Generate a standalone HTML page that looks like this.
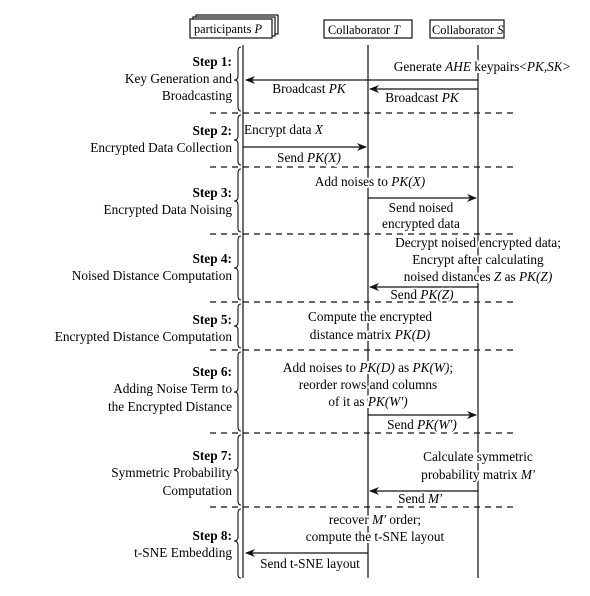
<!DOCTYPE html><html><head><style>body{margin:0;background:#fff}svg{display:block}
text{font-family:"Liberation Serif",serif;font-size:13.3px;fill:#000}
.m{paint-order:stroke;stroke:#fff;stroke-width:4px;stroke-linejoin:round}
.r{text-anchor:end}.c{text-anchor:middle}.b{font-weight:bold}.s{text-anchor:start}
.h{font-size:12.3px}
</style></head><body>
<svg width="590" height="596" viewBox="0 0 590 596">
<defs><marker id="a" markerWidth="10" markerHeight="8" refX="9" refY="4" orient="auto" markerUnits="userSpaceOnUse"><path d="M0,0 L10,4 L0,8 L3,4z" fill="#111"/></marker></defs>
<g stroke="#111" stroke-width="1.2" fill="#fff">
<rect x="196" y="15" width="82" height="19"/><rect x="193" y="17" width="82" height="19"/><rect x="190" y="19" width="82" height="19"/>
<rect x="324" y="20" width="88" height="18"/><rect x="430" y="20" width="74" height="18"/>
</g>
<text x="194" y="33" class="h">participants <tspan font-style="italic">P</tspan></text>
<text x="328" y="34" class="h">Collaborator <tspan font-style="italic">T</tspan></text>
<text x="432" y="34" class="h">Collaborator <tspan font-style="italic">S</tspan></text>
<g stroke="#111" stroke-width="1.2"><line x1="243" y1="45" x2="243" y2="578"/><line x1="368" y1="45" x2="368" y2="578"/><line x1="478" y1="45" x2="478" y2="578"/></g>
<g stroke="#111" stroke-width="1.2" stroke-dasharray="6,5">
<line x1="210" y1="113" x2="515" y2="113"/><line x1="210" y1="167" x2="515" y2="167"/><line x1="210" y1="234" x2="515" y2="234"/><line x1="210" y1="302" x2="515" y2="302"/><line x1="210" y1="350" x2="515" y2="350"/><line x1="210" y1="433" x2="515" y2="433"/><line x1="210" y1="507" x2="515" y2="507"/></g>
<g stroke="#111" stroke-width="1.1" fill="none">
<path d="M241,47 q-3,0 -3,4 L238,76 q0,4 -4,4 q4,0 4,4 L238,107 q0,4 3,4"/>
<path d="M241,115 q-3,0 -3,4 L238,136 q0,4 -4,4 q4,0 4,4 L238,161 q0,4 3,4"/>
<path d="M241,169 q-3,0 -3,4 L238,197 q0,4 -4,4 q4,0 4,4 L238,228 q0,4 3,4"/>
<path d="M241,236 q-3,0 -3,4 L238,264 q0,4 -4,4 q4,0 4,4 L238,296 q0,4 3,4"/>
<path d="M241,304 q-3,0 -3,4 L238,322 q0,4 -4,4 q4,0 4,4 L238,344 q0,4 3,4"/>
<path d="M241,352 q-3,0 -3,4 L238,388 q0,4 -4,4 q4,0 4,4 L238,427 q0,4 3,4"/>
<path d="M241,435 q-3,0 -3,4 L238,466 q0,4 -4,4 q4,0 4,4 L238,501 q0,4 3,4"/>
<path d="M241,509 q-3,0 -3,4 L238,537 q0,4 -4,4 q4,0 4,4 L238,574 q0,4 3,4"/>
</g>
<g stroke="#111" stroke-width="1.2" marker-end="url(#a)">
<line x1="478" y1="80" x2="246" y2="80"/><line x1="478" y1="89" x2="370" y2="89"/>
<line x1="243" y1="147" x2="366" y2="147"/><line x1="368" y1="198" x2="476" y2="198"/>
<line x1="478" y1="287" x2="370" y2="287"/><line x1="368" y1="415" x2="476" y2="415"/>
<line x1="478" y1="491" x2="370" y2="491"/><line x1="368" y1="553" x2="246" y2="553"/>
</g>
<text x="482" y="71" class="c m">Generate <tspan font-style="italic">AHE</tspan> keypairs&lt;<tspan font-style="italic">PK,SK</tspan>&gt;</text>
<text x="309" y="93" class="c m">Broadcast <tspan font-style="italic">PK</tspan></text>
<text x="422" y="102" class="c m">Broadcast <tspan font-style="italic">PK</tspan></text>
<text x="244" y="134" class="s">Encrypt data <tspan font-style="italic">X</tspan></text>
<text x="309" y="162" class="c m">Send <tspan font-style="italic">PK(X)</tspan></text>
<text x="370" y="186" class="c m">Add noises to <tspan font-style="italic">PK(X)</tspan></text>
<text x="421" y="212" class="c m">Send noised</text><text x="421" y="228" class="c m">encrypted data</text>
<text x="478" y="247" class="c m">Decrypt noised encrypted data;</text>
<text x="478" y="264" class="c m">Encrypt after calculating</text>
<text x="478" y="281" class="c m">noised distances <tspan font-style="italic">Z</tspan> as <tspan font-style="italic">PK(Z)</tspan></text>
<text x="422" y="299" class="c m">Send <tspan font-style="italic">PK(Z)</tspan></text>
<text x="370" y="321" class="c m">Compute the encrypted</text>
<text x="370" y="339" class="c m">distance matrix <tspan font-style="italic">PK(D)</tspan></text>
<text x="368" y="372" class="c m">Add noises to <tspan font-style="italic">PK(D)</tspan> as <tspan font-style="italic">PK(W)</tspan>;</text>
<text x="368" y="389" class="c m">reorder rows and columns</text>
<text x="368" y="406" class="c m">of it as <tspan font-style="italic">PK(W')</tspan></text>
<text x="422" y="429" class="c m">Send <tspan font-style="italic">PK(W')</tspan></text>
<text x="478" y="461" class="c m">Calculate symmetric</text>
<text x="478" y="479" class="c m">probability matrix <tspan font-style="italic">M'</tspan></text>
<text x="420" y="503" class="c m">Send <tspan font-style="italic">M'</tspan></text>
<text x="375" y="524" class="c m">recover <tspan font-style="italic">M'</tspan> order;</text>
<text x="375" y="541" class="c m">compute the t-SNE layout</text>
<text x="310" y="568" class="c m">Send t-SNE layout</text>
<text x="232" y="66" class="r b">Step 1:</text><text x="232" y="83" class="r">Key Generation and</text><text x="232" y="100" class="r">Broadcasting</text>
<text x="232" y="135" class="r b">Step 2:</text><text x="232" y="152" class="r">Encrypted Data Collection</text>
<text x="232" y="197" class="r b">Step 3:</text><text x="232" y="214" class="r">Encrypted Data Noising</text>
<text x="232" y="263" class="r b">Step 4:</text><text x="232" y="280" class="r">Noised Distance Computation</text>
<text x="232" y="324" class="r b">Step 5:</text><text x="232" y="341" class="r">Encrypted Distance Computation</text>
<text x="232" y="376" class="r b">Step 6:</text><text x="232" y="393" class="r">Adding Noise Term to</text><text x="232" y="411" class="r">the Encrypted Distance</text>
<text x="232" y="460" class="r b">Step 7:</text><text x="232" y="477" class="r">Symmetric Probability</text><text x="232" y="495" class="r">Computation</text>
<text x="232" y="540" class="r b">Step 8:</text><text x="232" y="557" class="r">t-SNE Embedding</text>
</svg></body></html>
